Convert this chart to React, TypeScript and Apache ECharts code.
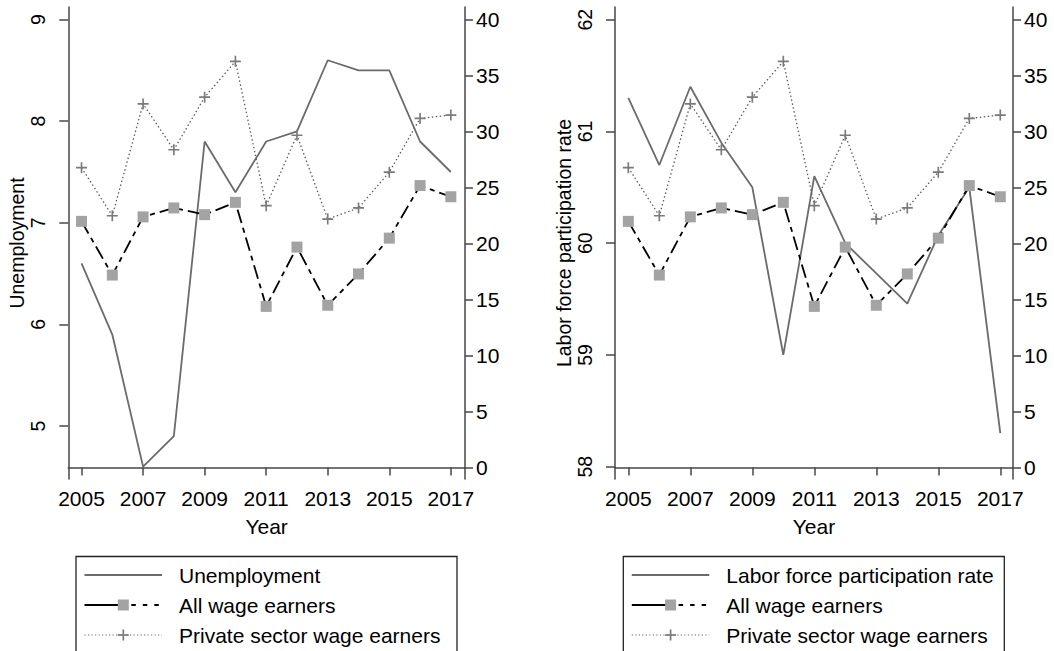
import React, { useEffect, useRef } from "react";
import * as echarts from "echarts";

const years = [2005, 2006, 2007, 2008, 2009, 2010, 2011, 2012, 2013, 2014, 2015, 2016, 2017];
const unemployment = [6.6, 5.9, 4.6, 4.9, 7.8, 7.3, 7.8, 7.9, 8.6, 8.5, 8.5, 7.8, 7.5];
const laborForce = [61.3, 60.7, 61.4, 60.9, 60.5, 59.0, 60.6, 60.0, 59.73, 59.46, 60.07, 60.5, 58.3];
const allWageEarners = [22.0, 17.2, 22.4, 23.2, 22.6, 23.7, 14.4, 19.7, 14.5, 17.3, 20.5, 25.2, 24.2];
const privateWageEarners = [26.8, 22.5, 32.5, 28.4, 33.1, 36.3, 23.4, 29.7, 22.2, 23.2, 26.4, 31.2, 31.5];

const yearTicks = [2005, 2007, 2009, 2011, 2013, 2015, 2017];
const unemploymentTicks = [5, 6, 7, 8, 9];
const laborTicks = [58, 59, 60, 61, 62];
const shareTicks = [0, 5, 10, 15, 20, 25, 30, 35, 40];

const FONT = "'Liberation Sans', Arial, Helvetica, sans-serif";
const AXIS_COLOR = "#474747";
const PLUS_PATH =
  "path://M0.85,0 L1.15,0 L1.15,0.85 L2,0.85 L2,1.15 L1.15,1.15 L1.15,2 L0.85,2 L0.85,1.15 L0,1.15 L0,0.85 L0.85,0.85 Z";

const pairs = (vals: number[]) => years.map((y, i) => [y, vals[i]]);

function xAxisFor(g: number, max: number) {
  return {
    type: "value",
    gridIndex: g,
    min: 2004.57,
    max,
    name: "Year",
    nameLocation: "middle",
    nameGap: 37,
    nameTextStyle: { fontSize: 21, color: "#000", fontFamily: FONT },
    axisLine: { show: true, lineStyle: { color: AXIS_COLOR, width: 1.5 } },
    axisTick: { show: true, length: 8, customValues: yearTicks, lineStyle: { color: AXIS_COLOR, width: 1.5 } },
    axisLabel: {
      customValues: yearTicks,
      margin: 9,
      fontSize: 21,
      color: "#000",
      fontFamily: FONT,
      formatter: (v: number) => String(v),
    },
    splitLine: { show: false },
  };
}

function leftYAxis(g: number, min: number, max: number, ticks: number[], name: string, gap: number) {
  return {
    type: "value",
    gridIndex: g,
    position: "left",
    min,
    max,
    name,
    nameLocation: "middle",
    nameGap: gap,
    nameRotate: 90,
    nameTextStyle: { fontSize: 19.5, color: "#000", fontFamily: FONT },
    axisLine: { show: true, lineStyle: { color: AXIS_COLOR, width: 1.5 } },
    axisTick: { show: true, length: 9, customValues: ticks, lineStyle: { color: AXIS_COLOR, width: 1.5 } },
    axisLabel: {
      customValues: ticks,
      rotate: 90,
      margin: 20,
      fontSize: 19.5,
      color: "#000",
      fontFamily: FONT,
      formatter: (v: number) => String(v),
    },
    splitLine: { show: false },
  };
}

function rightYAxis(g: number) {
  return {
    type: "value",
    gridIndex: g,
    position: "right",
    min: -1.028,
    max: 41.16,
    axisLine: { show: true, lineStyle: { color: AXIS_COLOR, width: 1.5 } },
    axisTick: { show: true, length: 8, customValues: shareTicks, lineStyle: { color: AXIS_COLOR, width: 1.5 } },
    axisLabel: {
      customValues: shareTicks,
      margin: 11,
      fontSize: 21,
      color: "#000",
      fontFamily: FONT,
      formatter: (v: number) => String(v),
    },
    splitLine: { show: false },
  };
}

function seriesFor(g: number, mainVals: number[]) {
  return [
    {
      type: "line",
      xAxisIndex: g,
      yAxisIndex: g * 2,
      data: pairs(mainVals),
      symbol: "none",
      lineStyle: { color: "#6b6b6b", width: 1.8 },
      silent: true,
      z: 2,
    },
    {
      type: "line",
      xAxisIndex: g,
      yAxisIndex: g * 2 + 1,
      data: pairs(allWageEarners),
      symbol: "rect",
      symbolSize: 11,
      itemStyle: { color: "#a3a3a3" },
      lineStyle: { color: "#000", width: 1.8, type: [14, 5, 5, 5] },
      silent: true,
      z: 3,
    },
    {
      type: "line",
      xAxisIndex: g,
      yAxisIndex: g * 2 + 1,
      data: pairs(privateWageEarners),
      symbol: PLUS_PATH,
      symbolSize: 11,
      itemStyle: { color: "#7a7a7a" },
      lineStyle: { color: "#5e5e5e", width: 1.3, type: [1.5, 2.5] },
      silent: true,
      z: 4,
    },
  ];
}

function legendGraphic(x0: number, mainLabel: string) {
  const s0 = x0 + 8.5;
  const s1 = x0 + 86;
  const m = x0 + 47.3;
  const tx = x0 + 103;
  const rows = [575, 605, 635];
  const txt = (t: string, y: number) => ({
    type: "text",
    x: tx,
    y,
    style: {
      text: t,
      fill: "#000",
      fontSize: 21,
      fontFamily: FONT,
      align: "left",
      verticalAlign: "middle",
      textAlign: "left",
      textVerticalAlign: "middle",
    },
  });
  return [
    {
      type: "rect",
      shape: { x: x0, y: 556.5, width: 381, height: 130 },
      style: { fill: "none", stroke: "#222", lineWidth: 1.3 },
    },
    {
      type: "line",
      shape: { x1: s0, y1: rows[0], x2: s1, y2: rows[0] },
      style: { stroke: "#6b6b6b", lineWidth: 1.8 },
    },
    txt(mainLabel, rows[0]),
    {
      type: "line",
      shape: { x1: s0, y1: rows[1], x2: m - 4, y2: rows[1] },
      style: { stroke: "#000", lineWidth: 1.8 },
    },
    {
      type: "line",
      shape: { x1: m + 8, y1: rows[1], x2: s1, y2: rows[1] },
      style: { stroke: "#000", lineWidth: 1.8, lineDash: [4.5, 7] },
    },
    {
      type: "rect",
      shape: { x: m - 5.5, y: rows[1] - 5.5, width: 11, height: 11 },
      style: { fill: "#a3a3a3" },
    },
    txt("All wage earners", rows[1]),
    {
      type: "line",
      shape: { x1: s0, y1: rows[2], x2: s1, y2: rows[2] },
      style: { stroke: "#6a6a6a", lineWidth: 1.2, lineDash: [1.2, 2.3] },
    },
    {
      type: "line",
      shape: { x1: m - 5.5, y1: rows[2], x2: m + 5.5, y2: rows[2] },
      style: { stroke: "#7a7a7a", lineWidth: 1.7 },
    },
    {
      type: "line",
      shape: { x1: m, y1: rows[2] - 5.5, x2: m, y2: rows[2] + 5.5 },
      style: { stroke: "#7a7a7a", lineWidth: 1.7 },
    },
    txt("Private sector wage earners", rows[2]),
  ];
}

export default function App() {
  const ref = useRef<HTMLDivElement>(null);
  useEffect(() => {
    document.body.style.margin = "0";
    const chart = echarts.init(ref.current as HTMLDivElement, null, { renderer: "svg" });
    const option = {
      animation: false,
      backgroundColor: "#fff",
      textStyle: { fontFamily: FONT },
      grid: [
        { left: 68.3, top: 7, width: 396.7, height: 472, containLabel: false },
        { left: 615, top: 7, width: 398, height: 472, containLabel: false },
      ],
      xAxis: [xAxisFor(0, 2017.46), xAxisFor(1, 2017.41)],
      yAxis: [
        leftYAxis(0, 4.478, 9.124, unemploymentTicks, "Unemployment", 41),
        rightYAxis(0),
        leftYAxis(1, 57.89, 62.114, laborTicks, "Labor force participation rate", 40),
        rightYAxis(1),
      ],
      series: [...seriesFor(0, unemployment), ...seriesFor(1, laborForce)],
      graphic: [
        ...legendGraphic(76, "Unemployment"),
        ...legendGraphic(623.3, "Labor force participation rate"),
      ],
    };
    chart.setOption(option as any);
    return () => chart.dispose();
  }, []);
  return (
    <div
      ref={ref}
      style={{ position: "absolute", left: 0, top: 0, width: 1054, height: 651, background: "#fff" }}
    />
  );
}
